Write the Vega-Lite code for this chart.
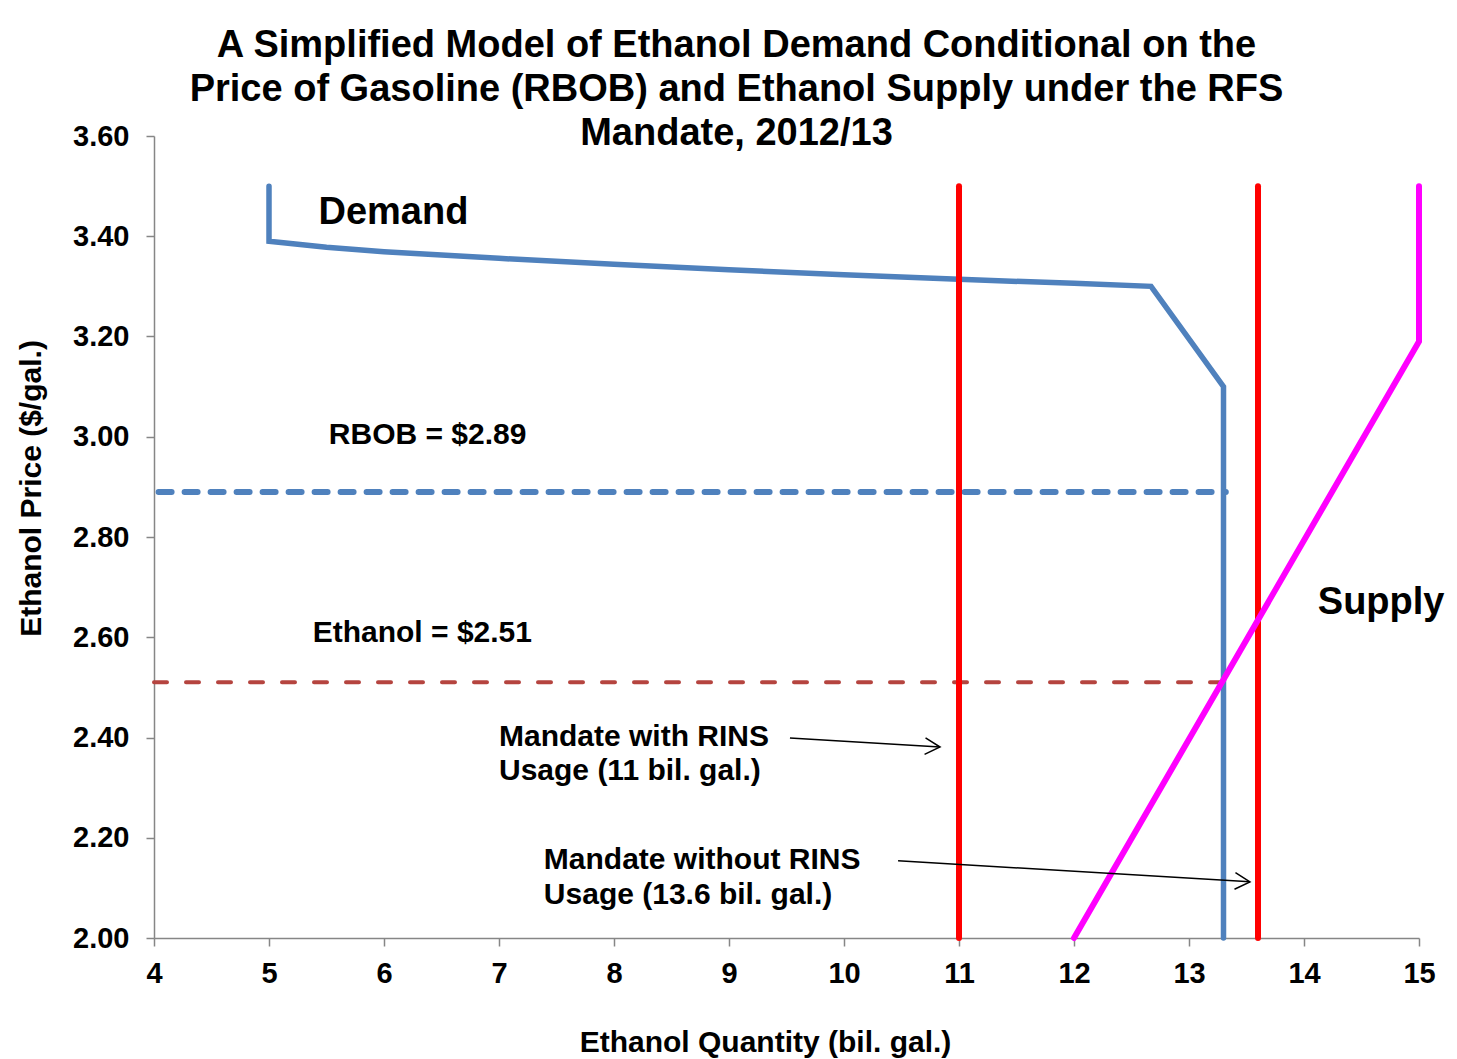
{
  "$schema": "https://vega.github.io/schema/vega-lite/v6.json",
  "width": 1265,
  "height": 802,
  "autosize": {"type": "none"},
  "padding": {"left": 154, "top": 136, "right": 38, "bottom": 121},
  "background": "white",
  "title": {
    "text": ["A Simplified Model of Ethanol Demand Conditional on the", "Price of Gasoline (RBOB) and Ethanol Supply under the RFS", "Mandate, 2012/13"],
    "font": "Liberation Sans",
    "fontSize": 38,
    "fontWeight": "bold",
    "color": "black",
    "anchor": "middle",
    "dx": -50,
    "lineHeight": 44,
    "offset": -31
  },
  "config": {
    "view": {"stroke": null},
    "axis": {
      "labelFont": "Liberation Sans",
      "labelFontWeight": "bold",
      "labelFontSize": 29,
      "labelColor": "black",
      "labelFlush": false,
      "labelOverlap": false,
      "titleFont": "Liberation Sans",
      "titleFontWeight": "bold",
      "titleFontSize": 30,
      "titleColor": "black",
      "domainColor": "#868686",
      "tickColor": "#868686",
      "domainWidth": 1.5,
      "tickWidth": 1.5,
      "tickSize": 8,
      "grid": false
    }
  },
  "datasets": {
    "demand": [
      {"x": 5, "y": 3.5, "o": 0},
      {"x": 5, "y": 3.39, "o": 1},
      {"x": 5.5, "y": 3.378, "o": 2},
      {"x": 6, "y": 3.369, "o": 3},
      {"x": 7, "y": 3.356, "o": 4},
      {"x": 8, "y": 3.344, "o": 5},
      {"x": 9, "y": 3.333, "o": 6},
      {"x": 10, "y": 3.323, "o": 7},
      {"x": 11, "y": 3.314, "o": 8},
      {"x": 12, "y": 3.306, "o": 9},
      {"x": 12.67, "y": 3.3, "o": 10},
      {"x": 13.3, "y": 3.1, "o": 11},
      {"x": 13.3, "y": 2.0, "o": 12}
    ],
    "supply": [
      {"x": 12, "y": 2.0, "o": 0},
      {"x": 15, "y": 3.19, "o": 1},
      {"x": 15, "y": 3.5, "o": 2}
    ],
    "mandates": [
      {"x": 11, "lo": 2.0, "hi": 3.5},
      {"x": 13.6, "lo": 2.0, "hi": 3.5}
    ],
    "rbob": [{"y": 2.89, "x1": 4.04, "x2": 13.32}],
    "ethanol": [{"y": 2.51, "x1": 4.0, "x2": 13.28}],
    "arrows": [
      {"id": "a1", "o": 0, "x": 9.53, "y": 2.399},
      {"id": "a1", "o": 1, "x": 10.835, "y": 2.381},
      {"id": "a2", "o": 0, "x": 10.47, "y": 2.154},
      {"id": "a2", "o": 1, "x": 13.53, "y": 2.112}
    ],
    "heads": [
      {"x": 10.835, "y": 2.381},
      {"x": 13.53, "y": 2.112}
    ],
    "bigLabels": [
      {"label": "Demand", "x": 5.43, "y": 3.446},
      {"label": "Supply", "x": 14.12, "y": 2.668}
    ],
    "labels": [
      {"label": "RBOB = $2.89", "x": 5.52, "y": 3.003},
      {"label": "Ethanol = $2.51", "x": 5.38, "y": 2.608},
      {"label": "Mandate with RINS", "x": 7.0, "y": 2.401},
      {"label": "Usage (11 bil. gal.)", "x": 7.0, "y": 2.333},
      {"label": "Mandate without RINS", "x": 7.39, "y": 2.156},
      {"label": "Usage (13.6 bil. gal.)", "x": 7.39, "y": 2.086}
    ]
  },
  "layer": [
    {
      "data": {"name": "rbob"},
      "mark": {"type": "rule", "color": "#4F81BD", "strokeWidth": 6, "strokeDash": [13, 13], "strokeCap": "round"},
      "encoding": {
        "y": {
          "field": "y", "type": "quantitative",
          "scale": {"domain": [2, 3.6], "nice": false, "zero": false},
          "axis": {
            "title": "Ethanol Price ($/gal.)",
            "values": [2, 2.2, 2.4, 2.6, 2.8, 3.0, 3.2, 3.4, 3.6],
            "format": ".2f",
            "labelPadding": 17,
            "titleX": -123,
            "titleY": 352,
            "titleAngle": -90,
            "titleBaseline": "middle",
            "titleAlign": "center"
          }
        },
        "x": {
          "field": "x1", "type": "quantitative",
          "scale": {"domain": [4, 15], "nice": false, "zero": false},
          "axis": {
            "title": "Ethanol Quantity (bil. gal.)",
            "values": [4, 5, 6, 7, 8, 9, 10, 11, 12, 13, 14, 15],
            "format": "d",
            "labelPadding": 13,
            "titleX": 611,
            "titleY": 104,
            "titleBaseline": "middle",
            "titleAlign": "center"
          }
        },
        "x2": {"field": "x2"}
      }
    },
    {
      "data": {"name": "ethanol"},
      "mark": {"type": "rule", "color": "#B5443F", "strokeWidth": 4, "strokeDash": [13, 19], "strokeCap": "round"},
      "encoding": {
        "y": {"field": "y", "type": "quantitative"},
        "x": {"field": "x1", "type": "quantitative"},
        "x2": {"field": "x2"}
      }
    },
    {
      "data": {"name": "demand"},
      "mark": {"type": "line", "color": "#4F81BD", "strokeWidth": 5.5, "strokeCap": "round", "strokeJoin": "miter"},
      "encoding": {
        "x": {"field": "x", "type": "quantitative"},
        "y": {"field": "y", "type": "quantitative"},
        "order": {"field": "o", "type": "quantitative"}
      }
    },
    {
      "data": {"name": "mandates"},
      "mark": {"type": "rule", "color": "#FF0000", "strokeWidth": 6, "strokeCap": "round"},
      "encoding": {
        "x": {"field": "x", "type": "quantitative"},
        "y": {"field": "lo", "type": "quantitative"},
        "y2": {"field": "hi"}
      }
    },
    {
      "data": {"name": "supply"},
      "mark": {"type": "line", "color": "#FF00FF", "strokeWidth": 6, "strokeCap": "round"},
      "encoding": {
        "x": {"field": "x", "type": "quantitative"},
        "y": {"field": "y", "type": "quantitative"},
        "order": {"field": "o", "type": "quantitative"}
      }
    },
    {
      "data": {"name": "arrows"},
      "mark": {"type": "line", "color": "black", "strokeWidth": 1.5},
      "encoding": {
        "x": {"field": "x", "type": "quantitative"},
        "y": {"field": "y", "type": "quantitative"},
        "detail": {"field": "id"},
        "order": {"field": "o", "type": "quantitative"}
      }
    },
    {
      "data": {"name": "heads"},
      "mark": {"type": "point", "shape": "M-1,-0.55L0,0L-1,0.55", "filled": false, "stroke": "black", "strokeWidth": 1.5, "size": 900, "angle": 3.4, "opacity": 1},
      "encoding": {
        "x": {"field": "x", "type": "quantitative"},
        "y": {"field": "y", "type": "quantitative"}
      }
    },
    {
      "data": {"name": "bigLabels"},
      "mark": {"type": "text", "font": "Liberation Sans", "fontWeight": "bold", "fontSize": 38, "align": "left", "baseline": "middle", "color": "black"},
      "encoding": {
        "x": {"field": "x", "type": "quantitative"},
        "y": {"field": "y", "type": "quantitative"},
        "text": {"field": "label"}
      }
    },
    {
      "data": {"name": "labels"},
      "mark": {"type": "text", "font": "Liberation Sans", "fontWeight": "bold", "fontSize": 30, "align": "left", "baseline": "middle", "color": "black"},
      "encoding": {
        "x": {"field": "x", "type": "quantitative"},
        "y": {"field": "y", "type": "quantitative"},
        "text": {"field": "label"}
      }
    }
  ]
}
